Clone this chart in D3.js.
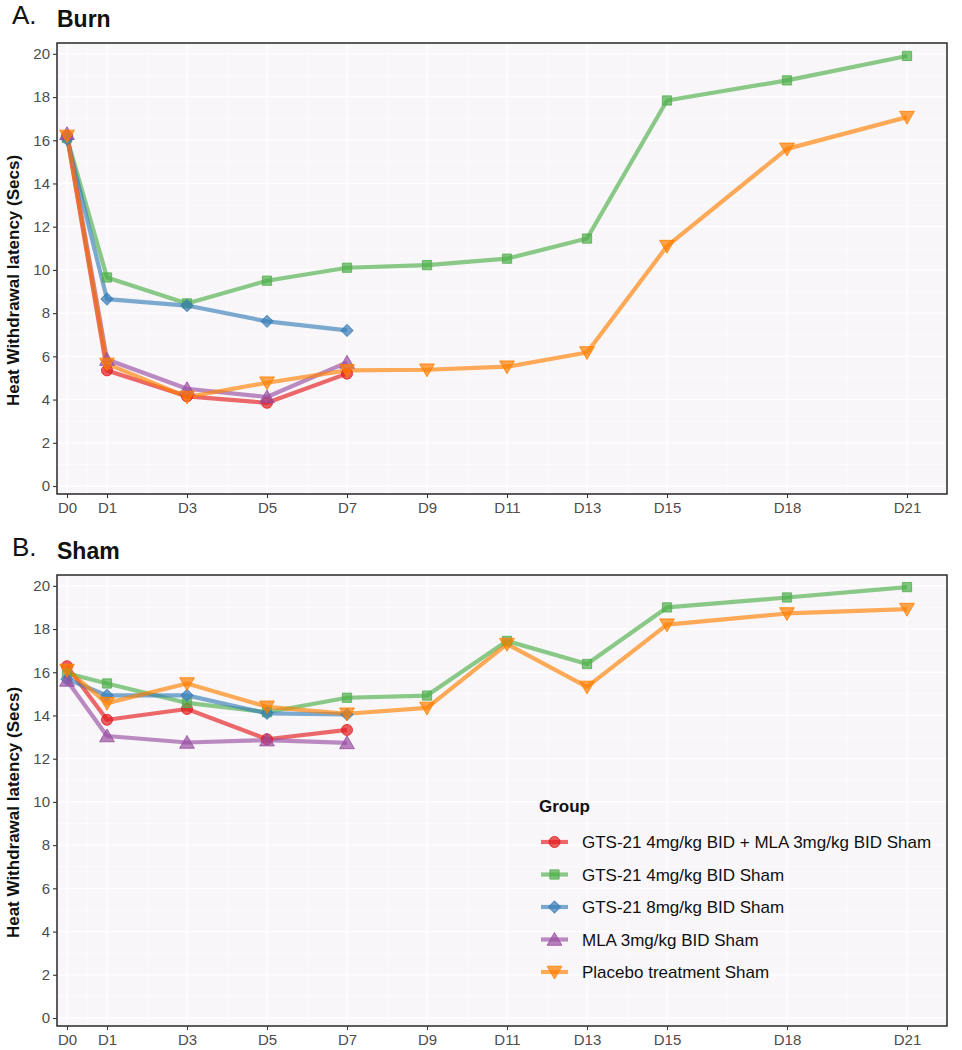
<!DOCTYPE html>
<html><head><meta charset="utf-8">
<script src="https://cdn.jsdelivr.net/npm/d3@7"></script>
<style>body{margin:0;background:#fff}</style>
</head><body>
<script>
const days = [0,1,3,5,7,9,11,13,15,18,21];
const dayLabels = ["D0","D1","D3","D5","D7","D9","D11","D13","D15","D18","D21"];
const yTicks = [0,2,4,6,8,10,12,14,16,18,20];
const groups = ["GTS-21 4mg/kg BID + MLA 3mg/kg BID Sham","GTS-21 4mg/kg BID Sham","GTS-21 8mg/kg BID Sham","MLA 3mg/kg BID Sham","Placebo treatment Sham"];
const colors = ["#E41A1C","#4DAF4A","#377EB8","#984EA3","#FF7F00"];
const shapes = ["circle","square","diamond","triangle","down"];

// Burn panel values (days with data per group)
const burnRed    = [16.2, 5.35, 4.15, 3.85, 5.2];
const burnGreen  = [16.1, 9.65, 8.45, 9.5, 10.1, 10.22, 10.52, 11.45, 17.84, 18.77, 19.9];
const burnBlue   = [16.05, 8.65, 8.35, 7.62, 7.2];
const burnPurple = [16.3, 5.85, 4.5, 4.12, 5.72];
const burnOrange = [16.2, 5.65, 4.12, 4.78, 5.35, 5.38, 5.52, 6.18, 11.1, 15.6, 17.07];

// Sham panel values
const shamRed    = [16.28, 13.8, 14.3, 12.9, 13.33];
const shamGreen  = [15.95, 15.48, 14.58, 14.15, 14.82, 14.92, 17.45, 16.38, 19.0, 19.46, 19.94];
const shamBlue   = [15.68, 14.93, 14.93, 14.1, 14.05];
const shamPurple = [15.62, 13.05, 12.75, 12.86, 12.73];
const shamOrange = [16.1, 14.57, 15.48, 14.4, 14.08, 14.35, 17.3, 15.32, 18.2, 18.72, 18.92];

const burnSeries = [burnRed, burnGreen, burnBlue, burnPurple, burnOrange];
const shamSeries = [shamRed, shamGreen, shamBlue, shamPurple, shamOrange];

const W = 962, H = 1050;
const svg = d3.select("body").append("svg").attr("width", W).attr("height", H)
  .style("font-family","'Liberation Sans', Arial, sans-serif");

function markerPath(shape){
  const sym = {circle:d3.symbolCircle, square:d3.symbolSquare, diamond:d3.symbolSquare, triangle:d3.symbolTriangle, down:d3.symbolTriangle}[shape];
  const size = {circle:95, square:85, diamond:72, triangle:95, down:95}[shape];
  return d3.symbol().type(sym).size(size)();
}
function markerTransform(shape, px, py){
  if(shape==="down") return `translate(${px},${py-1.5}) rotate(180)`;
  if(shape==="triangle") return `translate(${px},${py+1.5})`;
  if(shape==="diamond") return `translate(${px},${py}) rotate(45)`;
  return `translate(${px},${py})`;
}

function panel(top, letter, title, seriesList, withLegend){
  const left = 57, right = 947, bottom = top + 451;
  const x = d3.scaleLinear().domain([-0.25, 22]).range([left, right]);
  const y = d3.scaleLinear().domain([-0.37, 20.5]).range([bottom, top]);
  const g = svg.append("g");
  g.append("rect").attr("x",left).attr("y",top).attr("width",right-left).attr("height",bottom-top).attr("fill","#F8F6F8");
  // minor grid
  const minorY = d3.range(1, 21, 2);
  const minorX = [];
  for(let i=0;i<days.length-1;i++) minorX.push((days[i]+days[i+1])/2);
  g.selectAll(".mgy").data(minorY).enter().append("line")
    .attr("x1",left).attr("x2",right).attr("y1",d=>y(d)).attr("y2",d=>y(d))
    .attr("stroke","#fff").attr("stroke-width",0.6);
  g.selectAll(".mgx").data(minorX).enter().append("line")
    .attr("y1",top).attr("y2",bottom).attr("x1",d=>x(d)).attr("x2",d=>x(d))
    .attr("stroke","#fff").attr("stroke-width",0.6);
  g.selectAll(".gy").data(yTicks).enter().append("line")
    .attr("x1",left).attr("x2",right).attr("y1",d=>y(d)).attr("y2",d=>y(d))
    .attr("stroke","#fff").attr("stroke-width",1.3);
  g.selectAll(".gx").data(days).enter().append("line")
    .attr("y1",top).attr("y2",bottom).attr("x1",d=>x(d)).attr("x2",d=>x(d))
    .attr("stroke","#fff").attr("stroke-width",1.3);

  // lines
  const line = d3.line().x(d=>x(d[0])).y(d=>y(d[1]));
  seriesList.forEach((vals,i)=>{
    const pts = vals.map((v,j)=>[days[j], v]);
    g.append("path").attr("d", line(pts)).attr("fill","none")
      .attr("stroke", colors[i]).attr("stroke-width",4.2).attr("stroke-opacity",0.65)
      .attr("stroke-linejoin","round");
  });
  seriesList.forEach((vals,i)=>{
    const pts = vals.map((v,j)=>[days[j], v]);
    g.selectAll(null).data(pts).enter().append("path")
      .attr("d", markerPath(shapes[i]))
      .attr("transform", d=>markerTransform(shapes[i], x(d[0]), y(d[1])))
      .attr("fill", colors[i]).attr("fill-opacity",0.7)
      .attr("stroke", colors[i]).attr("stroke-opacity",0.8).attr("stroke-width",1);
  });

  // border
  g.append("rect").attr("x",left).attr("y",top).attr("width",right-left).attr("height",bottom-top)
    .attr("fill","none").attr("stroke","#1a1a1a").attr("stroke-width",1.4);

  // axes
  const ya = d3.axisLeft(y).tickValues(yTicks).tickSize(4).tickPadding(3);
  const yg = g.append("g").attr("transform",`translate(${left},0)`).call(ya);
  const xa = d3.axisBottom(x).tickValues(days).tickFormat((d,i)=>dayLabels[i]).tickSize(4).tickPadding(4);
  const xg = g.append("g").attr("transform",`translate(0,${bottom})`).call(xa);
  [yg,xg].forEach(a=>{
    a.select(".domain").remove();
    a.selectAll(".tick line").attr("stroke","#333").attr("stroke-width",1.1);
    a.selectAll(".tick text").attr("fill","#4D4D4D").style("font-size","15px")
      .style("font-family","'Liberation Sans', Arial, sans-serif");
  });

  // titles
  g.append("text").attr("x",12).attr("y",top-19).text(letter)
    .style("font-size","26px").attr("fill","#111");
  g.append("text").attr("x",57).attr("y",top-16).text(title)
    .style("font-size","23px").style("font-weight","bold").attr("fill","#111");

  g.append("text").attr("transform",`translate(19,${(top+bottom)/2 + 12}) rotate(-90)`)
    .attr("text-anchor","middle").text("Heat Withdrawal latency (Secs)")
    .style("font-size","17px").style("font-weight","bold").attr("fill","#111");

  if(withLegend){
    const lg = g.append("g");
    lg.append("text").attr("x",539).attr("y",812).text("Group")
      .style("font-size","17px").style("font-weight","bold").attr("fill","#111");
    groups.forEach((name,i)=>{
      const cy = 842 + i*32.5;
      lg.append("line").attr("x1",541).attr("x2",568).attr("y1",cy).attr("y2",cy)
        .attr("stroke",colors[i]).attr("stroke-width",4.2).attr("stroke-opacity",0.65);
      lg.append("path").attr("d",markerPath(shapes[i]))
        .attr("transform",markerTransform(shapes[i], 554.5, cy))
        .attr("fill",colors[i]).attr("fill-opacity",0.7).attr("stroke",colors[i]).attr("stroke-opacity",0.8);
      lg.append("text").attr("x",582).attr("y",cy+6).text(name)
        .style("font-size","17px").attr("fill","#111");
    });
  }
}

panel(43, "A.", "Burn", burnSeries, false);
panel(575, "B.", "Sham", shamSeries, true);
</script>
</body></html>
